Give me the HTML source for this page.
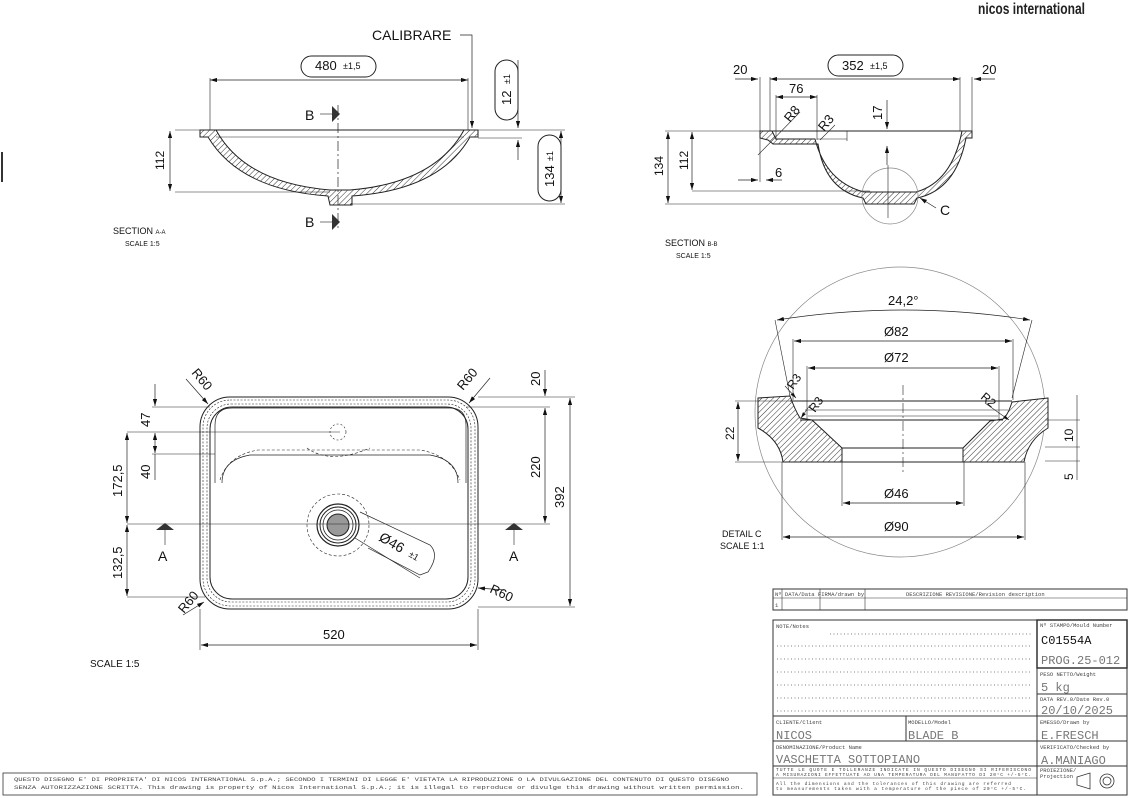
<!DOCTYPE html>
<html><head><meta charset="utf-8"><style>
html,body{margin:0;padding:0;background:#fff}
svg{display:block}
text{font-family:"Liberation Sans",sans-serif;fill:#111}
.m{font-family:"Liberation Mono",monospace;fill:#444}
</style></head><body>
<svg width="1129" height="798" viewBox="0 0 1129 798" xmlns="http://www.w3.org/2000/svg">
<defs>
<pattern id="h" width="4" height="4" patternUnits="userSpaceOnUse" patternTransform="rotate(45)"><rect width="4" height="4" fill="#fff"/><line x1="0" y1="0" x2="0" y2="4" stroke="#333" stroke-width="1"/></pattern>
<marker id="a" viewBox="0 0 10 6" refX="10" refY="3" markerWidth="10" markerHeight="6" orient="auto-start-reverse"><path d="M0,0L10,3L0,6z" fill="#111"/></marker>
</defs>
<rect width="1129" height="798" fill="#fff"/>
<text x="978" y="14" font-size="16" textLength="107" lengthAdjust="spacingAndGlyphs" style="font-weight:bold;fill:#222">nicos international</text>
<line x1="2" y1="152" x2="2" y2="182" stroke="#333" stroke-width="2"/>

<!-- SECTION A-A -->
<g stroke="#222" fill="none" stroke-width="1">
<path d="M200,130 L216,130 Q245,183 330,190 L350,190 Q435,183 464,130 L478,130 L478,137 L470,137 Q440,190 352,196 L352,205 L330,205 L328,196 Q240,190 208,137 L200,137 Z" fill="url(#h)"/>
<line x1="200" y1="130" x2="478" y2="130"/>
<line x1="216" y1="137" x2="464" y2="137" stroke-width="0.6"/>
<line x1="338" y1="105" x2="338" y2="230" stroke-dasharray="10,3,2,3" stroke-width="0.7"/>
<line x1="175" y1="130" x2="200" y2="130" stroke-width="0.6"/>
<line x1="175" y1="192" x2="330" y2="192" stroke-width="0.6"/>
<line x1="350" y1="204" x2="565" y2="204" stroke-width="0.6"/>
<line x1="478" y1="130" x2="565" y2="130" stroke-width="0.6"/>
<line x1="478" y1="138" x2="522" y2="138" stroke-width="0.6"/>
<line x1="170" y1="131" x2="170" y2="191" marker-start="url(#a)" marker-end="url(#a)" stroke-width="0.7"/>
<line x1="210" y1="80" x2="468" y2="80" marker-start="url(#a)" marker-end="url(#a)" stroke-width="0.7"/>
<line x1="210" y1="78" x2="210" y2="130" stroke-width="0.6"/>
<line x1="468" y1="78" x2="468" y2="130" stroke-width="0.6"/>
<path d="M460,35 L472,35 L472,128" stroke-width="0.7" marker-end="url(#a)"/>
<rect x="301" y="56" width="75" height="21" rx="10.5"/>
<rect x="495" y="60" width="23" height="60" rx="11.5"/>
<rect x="538" y="135" width="23" height="66" rx="11.5"/>
<line x1="518" y1="60" x2="518" y2="128" marker-end="url(#a)" stroke-width="0.7"/>
<line x1="518" y1="160" x2="518" y2="140" marker-end="url(#a)" stroke-width="0.7"/>
<line x1="561" y1="131" x2="561" y2="203" marker-start="url(#a)" marker-end="url(#a)" stroke-width="0.7"/>
<line x1="320" y1="114" x2="332" y2="114" stroke-width="0.6"/>
<line x1="320" y1="222" x2="332" y2="222" stroke-width="0.6"/>
</g>
<path d="M332,106 L340,114 L332,122Z M332,214 L340,222 L332,230Z" fill="#333"/>
<text x="372" y="40" font-size="14">CALIBRARE</text>
<text x="315" y="70" font-size="13">480</text><text x="343" y="69" font-size="9">±1,5</text>
<text x="305" y="120" font-size="14">B</text><text x="305" y="227" font-size="14">B</text>
<text transform="translate(164,170) rotate(-90)" font-size="12">112</text>
<text transform="translate(511,105) rotate(-90)" font-size="13">12</text><text transform="translate(510,84) rotate(-90)" font-size="9">±1</text>
<text transform="translate(554,187) rotate(-90)" font-size="13">134</text><text transform="translate(553,161) rotate(-90)" font-size="9">±1</text>
<text x="113" y="234" font-size="9">SECTION <tspan font-size="6">A-A</tspan></text>
<text x="125" y="246" font-size="7">SCALE 1:5</text>

<!-- SECTION B-B -->
<g stroke="#222" fill="none" stroke-width="1">
<path d="M760,131 L772,131 L776,139 L815,139 Q826,182 864,192 L916,192 Q952,182 962,131 L972,131 L972,138 L966,138 Q956,190 917,198 L914,204 L866,204 L863,198 Q825,190 818,144 L773,144 L768,140 L760,138 Z" fill="url(#h)"/>
<line x1="760" y1="131" x2="972" y2="131"/>
<line x1="817" y1="139" x2="847" y2="139" stroke-width="0.6"/>
<line x1="847" y1="131" x2="847" y2="141" stroke-width="0.6"/>
<circle cx="890" cy="196" r="28" stroke="#888" stroke-width="0.7"/>
<line x1="888" y1="165" x2="888" y2="218" stroke-width="0.6"/>
<line x1="665" y1="131" x2="760" y2="131" stroke-width="0.6"/>
<line x1="665" y1="204" x2="866" y2="204" stroke-width="0.6"/>
<line x1="692" y1="191" x2="870" y2="191" stroke-width="0.6"/>
<line x1="668" y1="132" x2="668" y2="203" marker-start="url(#a)" marker-end="url(#a)" stroke-width="0.7"/>
<line x1="692" y1="132" x2="692" y2="190" marker-start="url(#a)" marker-end="url(#a)" stroke-width="0.7"/>
<line x1="770" y1="79" x2="960" y2="79" marker-start="url(#a)" marker-end="url(#a)" stroke-width="0.7"/>
<line x1="770" y1="77" x2="770" y2="131" stroke-width="0.6"/>
<line x1="760" y1="77" x2="760" y2="182" stroke-width="0.6"/>
<line x1="960" y1="77" x2="960" y2="131" stroke-width="0.6"/>
<line x1="972" y1="77" x2="972" y2="131" stroke-width="0.6"/>
<line x1="735" y1="79" x2="758" y2="79" marker-end="url(#a)" stroke-width="0.7"/>
<line x1="995" y1="79" x2="974" y2="79" marker-end="url(#a)" stroke-width="0.7"/>
<line x1="776" y1="97" x2="817" y2="97" marker-start="url(#a)" marker-end="url(#a)" stroke-width="0.7"/>
<line x1="776" y1="95" x2="776" y2="140" stroke-width="0.6"/>
<line x1="817" y1="95" x2="817" y2="140" stroke-width="0.6"/>
<line x1="738" y1="180" x2="758" y2="180" marker-end="url(#a)" stroke-width="0.7"/>
<line x1="782" y1="180" x2="766" y2="180" marker-end="url(#a)" stroke-width="0.7"/>
<line x1="887" y1="100" x2="887" y2="129" marker-end="url(#a)" stroke-width="0.7"/>
<line x1="887" y1="165" x2="887" y2="146" marker-end="url(#a)" stroke-width="0.7"/>
<line x1="758" y1="155" x2="800" y2="112" stroke-width="0.6"/>
<line x1="820" y1="140" x2="835" y2="125" stroke-width="0.6"/>
<line x1="936" y1="208" x2="920" y2="198" marker-end="url(#a)" stroke-width="0.7"/>
<rect x="828" y="55" width="75" height="21" rx="10.5"/>
</g>
<text x="842" y="70" font-size="13">352</text><text x="870" y="69" font-size="9">±1,5</text>
<text x="733" y="74" font-size="13">20</text><text x="982" y="74" font-size="13">20</text>
<text x="789" y="93" font-size="13">76</text>
<text transform="translate(790,123) rotate(-50)" font-size="13">R8</text>
<text transform="translate(824,132) rotate(-50)" font-size="13">R3</text>
<text transform="translate(882,120) rotate(-90)" font-size="13">17</text>
<text x="775" y="177" font-size="13">6</text>
<text x="940" y="215" font-size="14">C</text>
<text transform="translate(663,176) rotate(-90)" font-size="12">134</text>
<text transform="translate(688,170) rotate(-90)" font-size="12">112</text>
<text x="665" y="246" font-size="9">SECTION <tspan font-size="6">B-B</tspan></text>
<text x="676" y="258" font-size="7">SCALE 1:5</text>

<!-- TOP VIEW -->
<g stroke="#222" fill="none" stroke-width="1">
<rect x="200" y="397" width="278" height="212" rx="30"/>
<rect x="203" y="400" width="272" height="206" rx="27" stroke-dasharray="2,1.5" stroke-width="0.6"/>
<rect x="207" y="404" width="264" height="198" rx="24" stroke-dasharray="2,1.5" stroke-width="0.6"/>
<rect x="210" y="407" width="258" height="192" rx="22"/>
<path d="M215,483 L215,425 Q215,408 232,408 L450,408 Q466,408 466,425 L466,483" stroke-width="0.7"/>
<path d="M222,483 Q222,460 250,455 L430,455 Q458,460 458,483" stroke-width="0.7"/>
<path d="M220,480 Q228,455 258,450 L420,450 Q450,455 460,480" stroke-dasharray="3,2" stroke-width="0.6"/>
<path d="M307,448 Q330,465 370,448" stroke-dasharray="3,2" stroke-width="0.6"/>
<circle cx="338" cy="432" r="8" stroke-dasharray="2,2" stroke-width="0.6"/>
<circle cx="338" cy="525" r="31" stroke-dasharray="3,2" stroke-width="0.6"/>
<circle cx="338" cy="525" r="21" stroke-width="1.2"/>
<circle cx="338" cy="525" r="18" stroke-width="1"/>
<circle cx="338" cy="525" r="15" stroke-width="0.8"/>
<circle cx="338" cy="525" r="11" fill="#999"/>
<line x1="127" y1="524" x2="550" y2="524" stroke-width="0.6"/>
<line x1="127" y1="432" x2="340" y2="432" stroke-width="0.6"/>
<line x1="152" y1="407" x2="210" y2="407" stroke-width="0.6"/>
<line x1="152" y1="454" x2="215" y2="454" stroke-width="0.6"/>
<line x1="127" y1="597" x2="205" y2="597" stroke-width="0.6"/>
<line x1="155" y1="384" x2="155" y2="406" marker-end="url(#a)" stroke-width="0.7"/>
<line x1="155" y1="433" x2="155" y2="453" marker-start="url(#a)" marker-end="url(#a)" stroke-width="0.7"/>
<line x1="155" y1="454" x2="155" y2="480" stroke-width="0.7"/>
<line x1="127" y1="433" x2="127" y2="523" marker-start="url(#a)" marker-end="url(#a)" stroke-width="0.7"/>
<line x1="127" y1="525" x2="127" y2="596" marker-start="url(#a)" marker-end="url(#a)" stroke-width="0.7"/>
<line x1="478" y1="397" x2="575" y2="397" stroke-width="0.6"/>
<line x1="466" y1="407" x2="550" y2="407" stroke-width="0.6"/>
<line x1="478" y1="607" x2="575" y2="607" stroke-width="0.6"/>
<line x1="570" y1="398" x2="570" y2="606" marker-start="url(#a)" marker-end="url(#a)" stroke-width="0.7"/>
<line x1="545" y1="408" x2="545" y2="523" marker-start="url(#a)" marker-end="url(#a)" stroke-width="0.7"/>
<line x1="545" y1="370" x2="545" y2="396" marker-end="url(#a)" stroke-width="0.7"/>
<line x1="200" y1="609" x2="200" y2="650" stroke-width="0.6"/>
<line x1="478" y1="609" x2="478" y2="650" stroke-width="0.6"/>
<line x1="201" y1="645" x2="477" y2="645" marker-start="url(#a)" marker-end="url(#a)" stroke-width="0.7"/>
<line x1="186" y1="379" x2="208" y2="404" marker-end="url(#a)" stroke-width="0.7"/>
<line x1="490" y1="378" x2="469" y2="403" marker-end="url(#a)" stroke-width="0.7"/>
<line x1="183" y1="615" x2="204" y2="602" marker-end="url(#a)" stroke-width="0.7"/>
<line x1="505" y1="590" x2="478" y2="588" marker-end="url(#a)" stroke-width="0.7"/>
<path d="M360,512 L430,545 Q440,555 428,572 L420,575 L368,548" stroke-width="0.7"/>
<line x1="355" y1="538" x2="420" y2="578" stroke-width="0.6"/>
<line x1="165" y1="530" x2="165" y2="545" stroke-width="0.6"/>
<line x1="514" y1="530" x2="514" y2="545" stroke-width="0.6"/>
</g>
<path d="M156,530 L165,523 L174,530Z M505,530 L514,523 L523,530Z" fill="#333"/>
<text x="158" y="561" font-size="14">A</text><text x="509" y="561" font-size="14">A</text>
<text x="323" y="639" font-size="13">520</text>
<text transform="translate(564,508) rotate(-90)" font-size="13">392</text>
<text transform="translate(540,478) rotate(-90)" font-size="13">220</text>
<text transform="translate(540,386) rotate(-90)" font-size="13">20</text>
<text transform="translate(150,427) rotate(-90)" font-size="13">47</text>
<text transform="translate(150,479) rotate(-90)" font-size="13">40</text>
<text transform="translate(122,497) rotate(-90)" font-size="13">172,5</text>
<text transform="translate(122,579) rotate(-90)" font-size="13">132,5</text>
<text transform="translate(191,373) rotate(50)" font-size="13">R60</text>
<text transform="translate(463,391) rotate(-50)" font-size="13">R60</text>
<text transform="translate(184,614) rotate(-50)" font-size="13">R60</text>
<text transform="translate(489,592) rotate(25)" font-size="13">R60</text>
<text transform="translate(378,540) rotate(30)" font-size="14">Ø46</text>
<text transform="translate(408,556) rotate(30)" font-size="9">±1</text>
<text x="90" y="667" font-size="10">SCALE 1:5</text>

<!-- DETAIL C -->
<g stroke="#222" fill="none" stroke-width="1">
<circle cx="900" cy="412" r="145" stroke="#888" stroke-width="0.7"/>
<path d="M758,398 L790,396 Q795,410 800,418 L812,420 L842,448 L842,462 L783,462 Q780,440 758,428 Z" fill="url(#h)"/>
<path d="M1048,398 L1012,402 Q1008,415 1003,419 L990,421 L963,448 L963,462 L1024,462 Q1028,440 1048,428 Z" fill="url(#h)"/>
<line x1="790" y1="401" x2="1012" y2="401"/>
<line x1="800" y1="420" x2="1003" y2="420"/>
<line x1="805" y1="410" x2="1008" y2="410" stroke-width="0.6"/>
<line x1="808" y1="416" x2="998" y2="416" stroke-width="0.6"/>
<line x1="842" y1="448" x2="963" y2="448"/>
<line x1="783" y1="462" x2="1024" y2="462"/>
<line x1="903" y1="385" x2="903" y2="475" stroke-dasharray="10,3,2,3" stroke-width="0.6"/>
<path d="M777,320 Q903,300 1030,320" stroke-width="0.7" marker-start="url(#a)" marker-end="url(#a)"/>
<line x1="775" y1="320" x2="790" y2="396" stroke-width="0.6"/>
<line x1="1032" y1="320" x2="1012" y2="398" stroke-width="0.6"/>
<line x1="794" y1="341" x2="1012" y2="341" marker-start="url(#a)" marker-end="url(#a)" stroke-width="0.7"/>
<line x1="793" y1="339" x2="793" y2="400" stroke-width="0.6"/>
<line x1="1013" y1="339" x2="1013" y2="400" stroke-width="0.6"/>
<line x1="808" y1="368" x2="998" y2="368" marker-start="url(#a)" marker-end="url(#a)" stroke-width="0.7"/>
<line x1="807" y1="366" x2="807" y2="420" stroke-width="0.6"/>
<line x1="999" y1="366" x2="999" y2="420" stroke-width="0.6"/>
<line x1="843" y1="503" x2="963" y2="503" marker-start="url(#a)" marker-end="url(#a)" stroke-width="0.7"/>
<line x1="842" y1="462" x2="842" y2="506" stroke-width="0.6"/>
<line x1="964" y1="462" x2="964" y2="506" stroke-width="0.6"/>
<line x1="783" y1="537" x2="1024" y2="537" marker-start="url(#a)" marker-end="url(#a)" stroke-width="0.7"/>
<line x1="782" y1="462" x2="782" y2="540" stroke-width="0.6"/>
<line x1="1025" y1="462" x2="1025" y2="540" stroke-width="0.6"/>
<line x1="738" y1="402" x2="738" y2="461" marker-start="url(#a)" marker-end="url(#a)" stroke-width="0.7"/>
<line x1="735" y1="401" x2="790" y2="401" stroke-width="0.6"/>
<line x1="735" y1="462" x2="783" y2="462" stroke-width="0.6"/>
<line x1="1045" y1="420" x2="1080" y2="420" stroke-width="0.6"/>
<line x1="1045" y1="447" x2="1080" y2="447" stroke-width="0.6"/>
<line x1="1045" y1="461" x2="1080" y2="461" stroke-width="0.6"/>
<line x1="1077" y1="395" x2="1077" y2="480" stroke-width="0.6"/>
<line x1="785" y1="386" x2="796" y2="398" marker-end="url(#a)" stroke-width="0.6"/>
<line x1="810" y1="405" x2="801" y2="418" marker-end="url(#a)" stroke-width="0.6"/>
<line x1="985" y1="403" x2="1009" y2="420" marker-end="url(#a)" stroke-width="0.6"/>
</g>
<text x="888" y="305" font-size="13">24,2°</text>
<text x="884" y="336" font-size="13">Ø82</text>
<text x="884" y="362" font-size="13">Ø72</text>
<text x="884" y="498" font-size="13">Ø46</text>
<text x="884" y="531" font-size="13">Ø90</text>
<text transform="translate(734,440) rotate(-90)" font-size="12">22</text>
<text transform="translate(1073,442) rotate(-90)" font-size="12">10</text>
<text transform="translate(1073,480) rotate(-90)" font-size="12">5</text>
<text transform="translate(793,390) rotate(-55)" font-size="12">R3</text>
<text transform="translate(815,413) rotate(-55)" font-size="12">R3</text>
<text transform="translate(980,398) rotate(40)" font-size="12">R2</text>
<text x="722" y="537" font-size="9">DETAIL C</text>
<text x="720" y="549" font-size="9">SCALE 1:1</text>

<!-- TITLE BLOCK -->
<g stroke="#333" fill="none" stroke-width="1">
<rect x="773" y="589" width="354" height="21"/>
<line x1="773" y1="598" x2="1127" y2="598" stroke-width="0.6"/>
<line x1="782" y1="589" x2="782" y2="610" stroke-width="0.6"/>
<line x1="820" y1="589" x2="820" y2="610" stroke-width="0.6"/>
<line x1="865" y1="589" x2="865" y2="610" stroke-width="0.6"/>
<rect x="773" y="620" width="354" height="175"/>
<rect x="1037" y="620" width="90" height="48" stroke-width="1.5"/>
<line x1="1037" y1="620" x2="1037" y2="795"/>
<line x1="773" y1="716" x2="1037" y2="716"/>
<line x1="773" y1="741" x2="1127" y2="741"/>
<line x1="773" y1="766" x2="1127" y2="766"/>
<line x1="906" y1="716" x2="906" y2="741"/>
<line x1="1037" y1="694" x2="1127" y2="694"/>
<line x1="1037" y1="716" x2="1127" y2="716"/>
<line x1="773" y1="778" x2="1037" y2="778" stroke-width="0.5"/>
<g stroke-dasharray="1,2.5" stroke-width="0.7" stroke="#555">
<line x1="830" y1="634" x2="1032" y2="634"/>
<line x1="777" y1="646" x2="1032" y2="646"/>
<line x1="777" y1="659" x2="1032" y2="659"/>
<line x1="777" y1="672" x2="1032" y2="672"/>
<line x1="777" y1="685" x2="1032" y2="685"/>
<line x1="777" y1="698" x2="1032" y2="698"/>
<line x1="777" y1="711" x2="1032" y2="711"/>
</g>
<path d="M1077,777 L1090,773 L1090,789 L1077,785 Z" stroke-width="0.8"/>
<circle cx="1107" cy="781" r="7" stroke-width="0.8"/><circle cx="1107" cy="781" r="4" stroke-width="0.8"/>
<rect x="3" y="773" width="754" height="22" stroke-width="0.8"/>
</g>
<g class="m" font-size="5.5">
<text x="775" y="596" class="m">Nº DATA/Data FIRMA/drawn by</text>
<text x="906" y="596" class="m">DESCRIZIONE REVISIONE/Revision description</text>
<text x="775" y="607" class="m">1</text>
<text x="776" y="628" class="m">NOTE/Notes</text>
<text x="1040" y="627" class="m">Nº STAMPO/Mould Number</text>
<text x="1040" y="676" class="m">PESO NETTO/Weight</text>
<text x="1040" y="701" class="m">DATA REV.0/Date Rev.0</text>
<text x="776" y="724" class="m">CLIENTE/Client</text>
<text x="908" y="724" class="m">MODELLO/Model</text>
<text x="1040" y="724" class="m">EMESSO/Drawn by</text>
<text x="776" y="749" class="m">DENOMINAZIONE/Product Name</text>
<text x="1040" y="749" class="m">VERIFICATO/Checked by</text>
<text x="1040" y="772" class="m">PROIEZIONE/</text>
<text x="1040" y="778" class="m">Projection</text>
<text x="776" y="771" class="m" font-size="4.6" textLength="255">TUTTE LE QUOTE E TOLLERANZE INDICATE IN QUESTO DISEGNO SI RIFERISCONO</text>
<text x="776" y="776" class="m" font-size="4.6" textLength="255">A MISURAZIONI EFFETTUATE AD UNA TEMPERATURA DEL MANUFATTO DI 20°C +/-5°C.</text>
<text x="776" y="785" class="m" font-size="4.6" textLength="235">All the dimensions and the tolerances of this drawing are referred</text>
<text x="776" y="790" class="m" font-size="4.6" textLength="250">to measurements taken with a temperature of the piece of 20°C +/-5°C.</text>
<text x="14" y="781" class="m" font-size="5.5" textLength="715" lengthAdjust="spacingAndGlyphs">QUESTO DISEGNO E' DI PROPRIETA' DI NICOS INTERNATIONAL S.p.A.; SECONDO I TERMINI DI LEGGE E' VIETATA LA RIPRODUZIONE O LA DIVULGAZIONE DEL CONTENUTO DI QUESTO DISEGNO</text>
<text x="14" y="789" class="m" font-size="5.5" textLength="730" lengthAdjust="spacingAndGlyphs">SENZA AUTORIZZAZIONE SCRITTA. This drawing is property of Nicos International S.p.A.; it is illegal to reproduce or divulge this drawing without written permission.</text>
</g>
<g font-size="12">
<text x="1041" y="644" class="m" style="fill:#111">C01554A</text>
<text x="1041" y="664" class="m" style="fill:#777">PROG.25-012</text>
<text x="1041" y="691" class="m" style="fill:#777">5 kg</text>
<text x="1041" y="714" class="m" style="fill:#777">20/10/2025</text>
<text x="776" y="739" class="m" style="fill:#777">NICOS</text>
<text x="908" y="739" class="m" style="fill:#777">BLADE B</text>
<text x="1041" y="739" class="m" style="fill:#777">E.FRESCH</text>
<text x="776" y="763" class="m" style="fill:#777">VASCHETTA SOTTOPIANO</text>
<text x="1041" y="764" class="m" style="fill:#777">A.MANIAGO</text>
</g>
</svg>
</body></html>
